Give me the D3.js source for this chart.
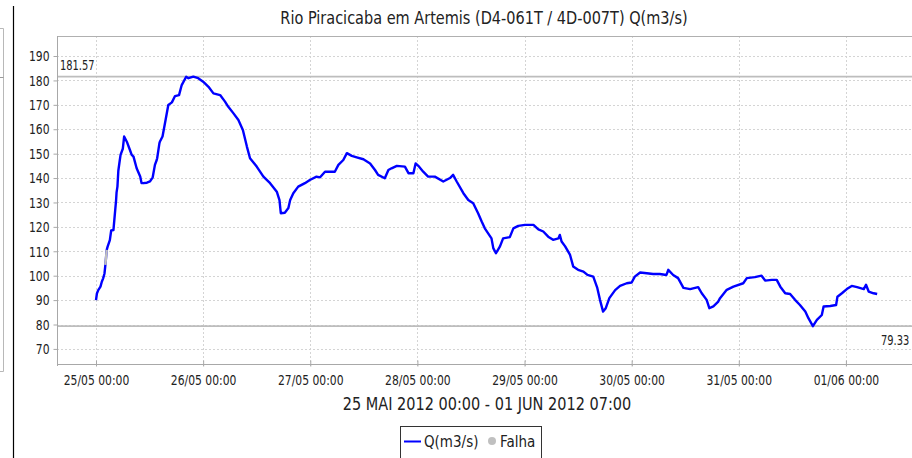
<!DOCTYPE html>
<html>
<head>
<meta charset="utf-8">
<script src="https://cdn.jsdelivr.net/npm/d3@7"></script>
<style>
  html, body { margin: 0; padding: 0; background: #ffffff; }
  svg { display: block; }
  text { font-family: "DejaVu Sans", sans-serif; fill: #222;
         transform-box: fill-box; transform-origin: center; transform: scaleY(1.22); }
  .tick text { font-family: "DejaVu Sans Condensed", "DejaVu Sans", sans-serif; font-size: 12px; fill: #222; }
</style>
</head>
<body>
<svg id="chart" width="912" height="458"></svg>
<script>
// Discharge of Rio Piracicaba em Artemis, 25 May 2012 00:00 to 01 June 2012 07:00.
// Time is given as hours after 25/05/2012 00:00.
const hoursFromStart = [
  0, 0.2, 0.5, 1.0, 1.3, 1.6, 1.9, 2.1, 2.4, 2.6, 3.1, 3.4, 3.9, 4.1, 4.3, 4.5, 4.6, 4.8,
  5.0, 5.3, 5.5, 6.0, 6.3, 6.9, 7.6, 8.0, 8.4, 9.1, 9.9, 10.2, 10.6, 11.4, 12.1, 12.7,
  13.2, 13.6, 13.7, 14.2, 14.3, 14.9, 15.5, 16.0, 16.2, 17.0, 17.7, 18.6, 19.2, 20.2,
  20.7, 21.8, 22.9, 24.0, 25.2, 26.3, 27.8, 28.9, 29.6, 30.8, 31.9, 32.9, 33.8, 34.5,
  36.0, 37.5, 39.0, 40.5, 41.1, 41.4, 42.3, 43.1, 43.5, 44.2, 45.3, 46.8, 47.9, 49.4,
  50.2, 51.3, 53.5, 54.3, 55.4, 56.2, 57.3, 58.4, 59.9, 61.4, 62.5, 63.2, 64.7, 65.5,
  66.2, 67.4, 69.2, 70.0, 71.1, 71.6, 72.2, 73.3, 74.4, 75.9, 77.8, 79.3, 80.0, 80.8,
  82.3, 83.4, 84.5, 85.6, 86.4, 87.1, 88.6, 89.0, 89.6, 90.5, 91.2, 92.7, 93.5, 94.6,
  96.1, 98.0, 99.1, 100.2, 101.3, 102.4, 103.6, 103.9, 104.3, 105.1, 106.2, 106.9,
  108.0, 109.2, 110.1, 111.4, 112.3, 112.9, 113.6, 114.2, 115.0, 116.3, 117.4, 118.9,
  120.0, 120.7, 121.9, 123.4, 124.8, 126.3, 127.8, 128.2, 129.3, 130.4, 131.6, 133.1,
  134.9, 135.7, 136.8, 137.4, 138.3, 139.4, 139.8, 141.3, 142.8, 145.0, 145.8, 147.6,
  149.1, 149.9, 151.4, 152.5, 153.3, 154.4, 155.5, 156.6, 157.7, 158.9, 159.6, 160.6,
  161.5, 162.6, 163.0, 164.5, 165.8, 166.1, 167.1, 168.2, 169.3, 170.5, 172.0, 172.5,
  173.1, 174.2, 175.0
];
const discharge = [
  90.0, 92.7, 94.1, 95.5, 97.5, 98.9, 100.9, 104.4, 110.6, 111.9, 114.6, 118.5, 118.7, 122.8, 126.9, 131.0, 134.0, 136.5,
  143.0, 147.0, 149.5, 152.0, 157.0, 154.9, 151.5, 149.5, 148.8, 144.0, 140.6, 138.0, 137.9, 138.1, 138.6, 140.3,
  145.4, 147.4, 148.1, 154.2, 154.9, 157.0, 163.0, 168.0, 169.9, 171.0, 173.6, 174.0, 178.1, 181.5,
  180.9, 181.57, 180.9, 179.5, 177.4, 174.7, 174.0, 171.3, 169.3, 166.5, 163.8, 159.7, 152.9, 148.1,
  144.7, 140.6, 137.9, 134.4, 131.0, 125.6, 125.8, 127.7, 131.0, 133.8, 136.5, 137.9, 139.2, 140.6,
  140.3, 142.6, 142.6, 145.4, 147.4, 150.2, 149.1, 148.5, 147.7, 146.0, 143.3, 141.3, 139.9, 143.3,
  144.0, 145.0, 144.7, 142.0, 142.0, 146.0, 145.0, 142.6, 140.6, 140.6, 138.6, 140.0, 141.3, 138.6,
  133.8, 131.0, 129.7, 125.6, 122.2, 119.4, 115.3, 111.3, 109.2, 112.0, 115.3, 115.8, 119.4, 120.4,
  120.8, 120.8, 119.0, 118.1, 116.0, 114.7, 115.3, 116.7, 114.0, 112.0, 108.5, 103.8,
  102.4, 101.7, 100.3, 99.6, 95.0, 90.1, 85.3, 86.7, 90.8, 94.1, 95.8, 96.9,
  97.2, 99.6, 101.3, 101.0, 100.7, 100.7, 100.3, 102.4, 100.3, 99.0, 95.0, 94.5,
  95.3, 92.8, 90.1, 86.7, 87.4, 89.4, 90.8, 94.2, 95.5, 96.9, 99.0, 99.4,
  100.0, 98.0, 98.3, 98.3, 95.5, 92.8, 92.5, 90.1, 88.0, 85.3, 82.6, 79.33,
  81.9, 83.9, 87.4, 87.6, 88.0, 91.4, 92.8, 94.5, 95.8, 95.3, 94.5, 96.3,
  93.5, 92.8, 92.5
];
// Gap-filled stretch of the record ("Falha"), in hours after the start.
const falhaPeriods = [[2.1, 2.4]];

// Reference lines: maximum and minimum of the period.
const refValues = [181.57, 79.33];

const yTicks = [70, 80, 90, 100, 110, 120, 130, 140, 150, 160, 170, 180, 190];
const dayTickHours = [0, 24, 48, 72, 96, 120, 144, 168];

const titleText = "Rio Piracicaba em Artemis (D4-061T / 4D-007T) Q(m3/s)";
const periodText = "25 MAI 2012 00:00 - 01 JUN 2012 07:00";
const legendLabels = ["Q(m3/s)", "Falha"];

const t0 = Date.UTC(2012, 4, 25, 0, 0);
const toDate = h => new Date(t0 + h * 3600 * 1000);

const svg = d3.select("#chart");

const plot = { left: 57, right: 916, top: 36, bottom: 366 };

const x = d3.scaleUtc()
  .domain([toDate(-8.74), toDate(183.7)])
  .range([plot.left, plot.right]);
const y = d3.scaleLinear()
  .domain([63.0, 198.2])
  .range([plot.bottom, plot.top]);

// Neighbouring panel edge and page divider on the left
const side = svg.append("g").attr("stroke", "#b8b8b8").attr("fill", "none");
side.append("line").attr("x1", 0).attr("x2", 3.5).attr("y1", 28.5).attr("y2", 28.5);
side.append("line").attr("x1", 3.5).attr("x2", 3.5).attr("y1", 28.5).attr("y2", 371.5);
side.append("line").attr("x1", 0).attr("x2", 3.5).attr("y1", 371.5).attr("y2", 371.5);
side.append("line").attr("x1", 0).attr("x2", 3.5).attr("y1", 77.5).attr("y2", 77.5).attr("stroke", "#999");
svg.append("line").attr("x1", 13.5).attr("x2", 13.5).attr("y1", 6).attr("y2", 458)
  .attr("stroke", "#000").attr("stroke-width", 1.2);

// Title
svg.append("text")
  .attr("x", 484).attr("y", 23)
  .attr("text-anchor", "middle")
  .style("font-size", "14.5px")
  .text(titleText);

// Grid
const grid = svg.append("g").attr("stroke", "#d4d4d4").attr("stroke-dasharray", "2,2");
grid.selectAll("line.h").data(yTicks).join("line")
  .attr("x1", plot.left).attr("x2", plot.right)
  .attr("y1", d => Math.round(y(d)) + 0.5).attr("y2", d => Math.round(y(d)) + 0.5);
grid.selectAll("line.v").data(dayTickHours).join("line")
  .attr("y1", plot.top).attr("y2", plot.bottom)
  .attr("x1", d => Math.round(x(toDate(d))) + 0.5).attr("x2", d => Math.round(x(toDate(d))) + 0.5);

// Plot frame (top)
svg.append("line").attr("x1", plot.left).attr("x2", plot.right)
  .attr("y1", plot.top + 0.5).attr("y2", plot.top + 0.5).attr("stroke", "#b0b0b0");

// Reference lines
svg.append("g").selectAll("line").data(refValues).join("line")
  .attr("x1", plot.left).attr("x2", plot.right)
  .attr("y1", d => y(d)).attr("y2", d => y(d))
  .attr("stroke", "#bdbdbd").attr("stroke-width", 1.6);
svg.append("text").attr("x", 60).attr("y", y(refValues[0]) - 7)
  .style("font-size", "11px").style("font-family", "'DejaVu Sans Condensed', sans-serif").attr("fill", "#333")
  .text(refValues[0].toFixed(2));
svg.append("text").attr("x", 881).attr("y", y(refValues[1]) + 18)
  .style("font-size", "11px").style("font-family", "'DejaVu Sans Condensed', sans-serif").attr("fill", "#333")
  .text(refValues[1].toFixed(2));

// Axes
const yAxis = d3.axisLeft(y).tickValues(yTicks).tickSize(4).tickPadding(4).tickFormat(d3.format("d"));
const gy = svg.append("g").attr("transform", `translate(${plot.left + 0.5},0)`).call(yAxis);
gy.select(".domain").attr("stroke", "#a8a8a8").attr("d", `M0,${plot.top}V${plot.bottom}`);
gy.selectAll(".tick line").attr("stroke", "#a8a8a8");

const xAxis = d3.axisBottom(x).tickValues(dayTickHours.map(toDate))
  .tickSize(4).tickPadding(7).tickFormat(d3.utcFormat("%d/%m %H:%M"));
const gx = svg.append("g").attr("transform", `translate(0,${plot.bottom - 1.5})`).call(xAxis);
gx.select(".domain").attr("stroke", "#a8a8a8").attr("d", `M${plot.left},0H${plot.right}`);
gx.selectAll(".tick line").attr("stroke", "#a8a8a8").attr("y1", -4).attr("y2", 2);

// Series
const points = hoursFromStart.map((h, i) => ({ h, v: discharge[i] }));
const line = d3.line().x(d => x(toDate(d.h))).y(d => y(d.v));
svg.append("path").datum(points)
  .attr("fill", "none").attr("stroke", "#0000ff").attr("stroke-width", 2.4)
  .attr("stroke-linejoin", "round").attr("d", line);
falhaPeriods.forEach(([a, b]) => {
  svg.append("path").datum(points.filter(p => p.h >= a && p.h <= b))
    .attr("fill", "none").attr("stroke", "#c0c0c0").attr("stroke-width", 2.4).attr("d", line);
});

// Period label
svg.append("text")
  .attr("x", 487).attr("y", 409)
  .attr("text-anchor", "middle")
  .style("font-size", "14.5px")
  .text(periodText);

// Legend
const lg = svg.append("g");
lg.append("rect").attr("x", 400.5).attr("y", 426.5).attr("width", 141).attr("height", 40)
  .attr("fill", "#fff").attr("stroke", "#333");
lg.append("line").attr("x1", 404).attr("x2", 421).attr("y1", 441.5).attr("y2", 441.5)
  .attr("stroke", "#0000ff").attr("stroke-width", 2);
lg.append("text").attr("x", 424).attr("y", 446).style("font-size", "13.5px").text(legendLabels[0]);
lg.append("circle").attr("cx", 492).attr("cy", 441).attr("r", 4).attr("fill", "#c0c0c0");
lg.append("text").attr("x", 500).attr("y", 446).style("font-size", "13.5px").text(legendLabels[1]);
</script>
</body>
</html>
